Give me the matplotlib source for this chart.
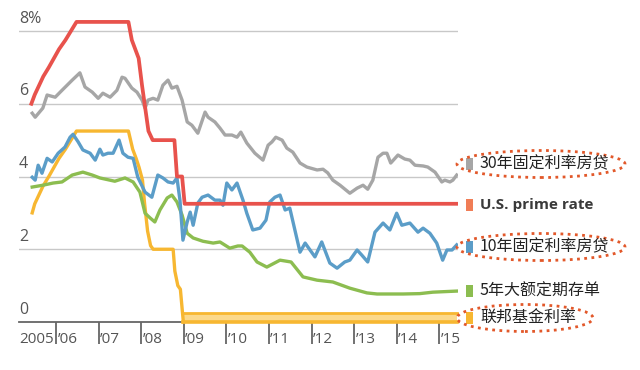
import matplotlib
matplotlib.use('Agg')
import matplotlib.pyplot as plt
from matplotlib.patches import Rectangle, Ellipse

# U.S. prime rate (corner points)
prime_x = [2005.42, 2005.5, 2005.6, 2005.7, 2005.83, 2005.95, 2006.07, 2006.22, 2006.35, 2006.48,
           2007.7, 2007.78, 2007.86, 2007.94, 2008.02, 2008.08, 2008.17, 2008.27, 2008.78, 2008.84,
           2008.96, 2009.02, 2015.42]
prime_y = [6.0, 6.25, 6.5, 6.75, 7.0, 7.25, 7.5, 7.75, 8.0, 8.25,
           8.25, 7.75, 7.5, 7.25, 6.5, 6.0, 5.25, 5.0, 5.0, 4.0,
           4.0, 3.25, 3.25]

# fed funds rate
fed_x = [2005.44, 2005.5, 2005.6, 2005.7, 2005.83, 2005.95, 2006.07, 2006.22, 2006.35, 2006.48,
         2007.7, 2007.8, 2007.88, 2007.95, 2008.03, 2008.08, 2008.15, 2008.22, 2008.28, 2008.75,
         2008.79, 2008.86, 2008.92, 2008.97, 2008.99]
fed_y = [3.0, 3.25, 3.5, 3.75, 4.0, 4.25, 4.5, 4.75, 5.0, 5.25,
         5.25, 4.75, 4.5, 4.25, 3.9, 3.25, 2.5, 2.1, 2.0, 2.0,
         1.4, 1.0, 0.9, 0.25, 0.0]
band_x = [2008.99, 2015.42]
band_lo = 0.0
band_hi = 0.25

# 30-year fixed mortgage
m30_x = [2005.44, 2005.51, 2005.69, 2005.79, 2005.98, 2006.14, 2006.38, 2006.56, 2006.68, 2006.85,
         2006.99, 2007.10, 2007.27, 2007.43, 2007.55, 2007.62, 2007.78, 2007.90, 2008.02, 2008.09,
         2008.16, 2008.28, 2008.39, 2008.51, 2008.63, 2008.72, 2008.84, 2008.96, 2009.08, 2009.19,
         2009.33, 2009.50, 2009.57, 2009.73, 2009.85, 2009.97, 2010.13, 2010.25, 2010.34, 2010.48,
         2010.67, 2010.86, 2010.98, 2011.07, 2011.16, 2011.31, 2011.42, 2011.56, 2011.73, 2011.89,
         2012.13, 2012.27, 2012.38, 2012.50, 2012.67, 2012.90, 2013.07, 2013.21, 2013.32, 2013.44,
         2013.56, 2013.68, 2013.77, 2013.86, 2014.03, 2014.19, 2014.31, 2014.43, 2014.62, 2014.73,
         2014.90, 2015.06, 2015.13, 2015.25, 2015.32, 2015.41]
m30_y = [5.74, 5.63, 5.88, 6.24, 6.18, 6.37, 6.65, 6.85, 6.46, 6.32,
         6.15, 6.29, 6.18, 6.37, 6.73, 6.70, 6.43, 6.32, 6.10, 5.88,
         6.10, 6.15, 6.10, 6.51, 6.65, 6.43, 6.48, 6.10, 5.50, 5.41,
         5.19, 5.77, 5.63, 5.50, 5.33, 5.14, 5.14, 5.08, 5.22, 4.92,
         4.64, 4.45, 4.86, 4.95, 5.08, 5.00, 4.78, 4.67, 4.37, 4.26,
         4.18, 4.20, 4.10, 3.90, 3.76, 3.54, 3.68, 3.76, 3.65, 3.90,
         4.53, 4.64, 4.64, 4.37, 4.59, 4.48, 4.45, 4.31, 4.29, 4.26,
         4.12, 3.85, 3.90, 3.85, 3.90, 4.04]

# 10-year fixed mortgage
m10_x = [2005.44, 2005.51, 2005.58, 2005.67, 2005.79, 2005.91, 2006.05, 2006.21, 2006.33, 2006.40,
         2006.52, 2006.63, 2006.80, 2006.92, 2007.03, 2007.10, 2007.22, 2007.34, 2007.48, 2007.57,
         2007.69, 2007.81, 2007.92, 2008.09, 2008.25, 2008.39, 2008.51, 2008.63, 2008.75, 2008.84,
         2008.91, 2008.98, 2009.08, 2009.15, 2009.22, 2009.33, 2009.43, 2009.57, 2009.73, 2009.85,
         2009.92, 2010.01, 2010.13, 2010.25, 2010.39, 2010.48, 2010.62, 2010.79, 2010.93, 2011.02,
         2011.14, 2011.26, 2011.38, 2011.49, 2011.73, 2011.85, 2012.08, 2012.24, 2012.43, 2012.60,
         2012.78, 2012.90, 2013.07, 2013.18, 2013.32, 2013.49, 2013.68, 2013.84, 2014.00, 2014.12,
         2014.31, 2014.50, 2014.62, 2014.78, 2014.94, 2015.08, 2015.18, 2015.30, 2015.41]
m10_y = [3.98, 3.90, 4.31, 4.09, 4.50, 4.40, 4.64, 4.81, 5.08, 5.16,
         4.95, 4.73, 4.64, 4.45, 4.75, 4.59, 4.64, 4.64, 5.00, 4.64,
         4.53, 4.50, 3.98, 3.57, 3.43, 4.04, 3.96, 3.85, 3.82, 3.96,
         3.35, 2.25, 2.75, 3.02, 2.66, 3.27, 3.43, 3.49, 3.35, 3.35,
         3.21, 3.82, 3.63, 3.82, 3.35, 2.99, 2.53, 2.58, 2.80, 3.30,
         3.43, 3.49, 3.08, 3.13, 1.92, 2.17, 1.79, 2.20, 1.62, 1.48,
         1.65, 1.70, 1.98, 1.84, 1.65, 2.47, 2.72, 2.53, 2.99, 2.66,
         2.72, 2.47, 2.58, 2.44, 2.17, 1.70, 1.98, 1.98, 2.12]

# 5-year jumbo CD
cd_x = [2005.44, 2005.69, 2005.93, 2006.14, 2006.38, 2006.63, 2006.85, 2007.03, 2007.38, 2007.62,
        2007.81, 2007.97, 2008.09, 2008.21, 2008.32, 2008.44, 2008.61, 2008.72, 2008.84, 2008.96,
        2009.08, 2009.22, 2009.45, 2009.69, 2009.85, 2010.08, 2010.27, 2010.37, 2010.55, 2010.72,
        2010.95, 2011.26, 2011.52, 2011.80, 2012.13, 2012.50, 2012.90, 2013.30, 2013.54, 2014.15,
        2014.54, 2014.85, 2015.41]
cd_y = [3.71, 3.76, 3.82, 3.85, 4.04, 4.12, 4.04, 3.96, 3.87, 3.96,
        3.85, 3.57, 2.99, 2.86, 2.75, 3.08, 3.41, 3.49, 3.30, 2.94,
        2.44, 2.31, 2.22, 2.17, 2.20, 2.03, 2.09, 2.09, 1.92, 1.65,
        1.51, 1.70, 1.65, 1.24, 1.15, 1.10, 0.93, 0.80, 0.77, 0.77,
        0.78, 0.82, 0.85]

years = list(range(2006, 2016))
year_labels = ['2005'] + ["\u2019%02d" % (y % 100) for y in years]
y_grid = [2, 4, 6, 8]
y_labels = ['2', '4', '6', '8%']

legend_text = ['30年固定利率房贷', 'U.S. prime rate', '10年固定利率房贷', '5年大额定期存单', '联邦基金利率']
legend_circled = [True, False, True, False, True]

RED = '#e8524c'
GREY = '#a6a6a6'
BLUE = '#5b9dc8'
GREEN = '#8cbd50'
YELLOW = '#f7b731'

plt.rcParams['font.family'] = ['Open Sans', 'Noto Sans CJK SC', 'DejaVu Sans']

W, H = 640, 370
fig = plt.figure(figsize=(6.4, 3.7), dpi=100)
fig.patch.set_facecolor('white')

# axes placed so that 0 -> y=322px, 8 -> y=31px
ax = fig.add_axes([19 / W, (H - 325.64) / H, 439 / W, (325.64 - 9.18) / H])
ax.set_xlim(2005.13, 2015.44)
ax.set_ylim(-0.1, 8.6)

for s in ['top', 'right', 'left']:
    ax.spines[s].set_visible(False)
ax.spines['bottom'].set_position(('data', 0))
ax.spines['bottom'].set_color('#666666')
ax.spines['bottom'].set_linewidth(1.3)
ax.set_xticks(years)
ax.tick_params(axis='x', direction='out', length=16, width=1.3, color='#666666', labelbottom=False)
ax.set_yticks(y_grid)
ax.tick_params(axis='y', left=False, labelleft=False)
ax.grid(axis='y', color='#c8c8c8', lw=1)
ax.set_axisbelow(True)

for v, lab in zip(y_grid + [0], y_labels + ['0']):
    ax.text(2005.13, v + 0.12, lab, ha='left', va='bottom', fontsize=11.5, color='#555555')

ax.text(2005.13, -0.47, year_labels[0], ha='left', va='center', fontsize=11, color='#555555')
for y, lab in zip(years, year_labels[1:]):
    ax.text(y + 0.03, -0.47, lab, ha='left', va='center', fontsize=11, color='#555555')

lw = 2.4
ax.fill_between(band_x, band_lo, band_hi, color='#fbd98c', lw=0, clip_on=False, zorder=2)
ax.plot(band_x, [band_hi, band_hi], color=YELLOW, lw=2.0, clip_on=False, zorder=3)
ax.plot(band_x, [band_lo, band_lo], color=YELLOW, lw=2.6, clip_on=False, zorder=3)
ax.plot(fed_x, fed_y, color=YELLOW, lw=lw, clip_on=False, zorder=3)
ax.plot(cd_x, cd_y, color=GREEN, lw=lw, zorder=4)
ax.plot(m10_x, m10_y, color=BLUE, lw=lw, zorder=5)
ax.plot(m30_x, m30_y, color=GREY, lw=lw, zorder=4)
ax.plot(prime_x, prime_y, color=RED, lw=lw + 0.3, zorder=6)

# right-hand labels
leg_y = [164, 205, 247, 291, 318]
leg_col = [GREY, '#f07d56', BLUE, GREEN, YELLOW]
ellipse_w = [168, 0, 168, 0, 136]
for py, txt, col, circ, ew in zip(leg_y, legend_text, leg_col, legend_circled, ellipse_w):
    fig.patches.append(Rectangle((466 / W, 1 - (py + 6) / H), 7 / W, 12 / H,
                                 transform=fig.transFigure, color=col, lw=0))
    if txt.startswith('U.S.'):
        fig.text(480 / W, 1 - py / H, txt, fontsize=11, fontweight='bold', color='#3a3a3a',
                 va='center', ha='left', family=['Open Sans', 'DejaVu Sans'])
    else:
        fig.text(480 / W, 1 - py / H, txt, fontsize=11.5, color='#222222',
                 va='center', ha='left', family=['Noto Sans CJK SC', 'DejaVu Sans'])
    if circ:
        cx = 457 + ew / 2
        fig.patches.append(Ellipse((cx / W, 1 - py / H), ew / W, 27 / H,
                                   transform=fig.transFigure, fill=False,
                                   edgecolor='#e2582a', lw=2, linestyle=(0, (1, 1.6))))

fig.savefig('out.png', dpi=100, facecolor='white')
